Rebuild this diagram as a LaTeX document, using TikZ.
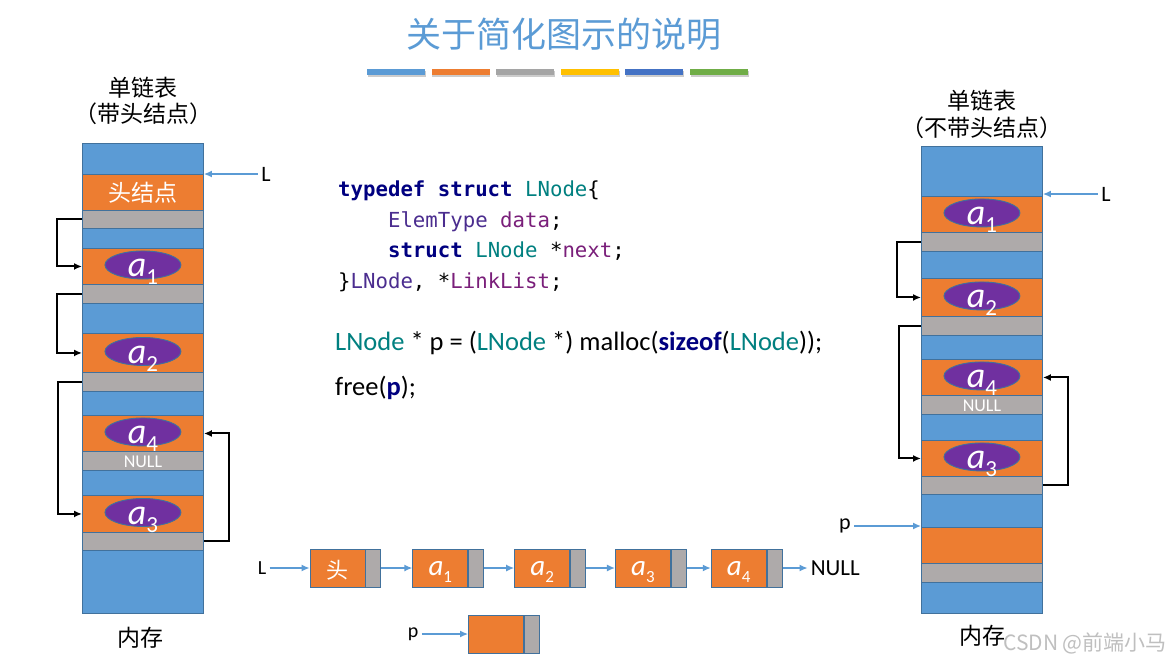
\documentclass[tikz,border=0pt]{standalone}
\usepackage{fontspec}
\setmainfont{Carlito}
\setmonofont{DejaVu Sans Mono}
\newfontfamily\cjk{Noto Sans CJK SC}
\usepackage{tikz}
\usetikzlibrary{arrows.meta,positioning,shapes.geometric,shadows}

\definecolor{memblue}{HTML}{5B9BD5}
\definecolor{memorange}{HTML}{ED7D31}
\definecolor{memgray}{HTML}{AEAAAA}
\definecolor{cellline}{HTML}{41719C}
\definecolor{elempurple}{HTML}{7030A0}
\definecolor{refblue}{HTML}{5B9BD5}
\definecolor{titleblue}{HTML}{5B9BD5}
\definecolor{barblue}{HTML}{5B9BD5}
\definecolor{barorange}{HTML}{ED7D31}
\definecolor{bargray}{HTML}{A5A5A5}
\definecolor{baryellow}{HTML}{FFC000}
\definecolor{bardeep}{HTML}{4472C4}
\definecolor{bargreen}{HTML}{70AD47}
\definecolor{kwnavy}{HTML}{000080}
\definecolor{typeteal}{HTML}{008080}
\definecolor{codeviolet}{HTML}{4B2D8F}
\definecolor{codemagenta}{HTML}{7A1F7A}

\newcommand{\colelem}[1]{{\fontsize{36}{36}\selectfont\itshape a}\raisebox{-8pt}{\fontsize{23}{23}\selectfont #1}}
\newcommand{\chainelem}[1]{{\fontsize{29}{29}\selectfont\itshape a}\raisebox{-7pt}{\fontsize{17}{17}\selectfont #1}}
\newcommand{\codeindent}{\phantom{0000}}

\tikzset{%
  memcell/.style={draw=cellline, line width=0.9pt, minimum width=121pt, inner sep=0pt, anchor=north west},
  elemdot/.style={ellipse, draw=cellline, line width=0.9pt, fill=elempurple, minimum width=76pt, minimum height=28pt, inner sep=0pt},
  elemtext/.style={text=white, inner sep=0pt, text height=24pt, text depth=0pt},
  celltext/.style={text=white, inner sep=0pt},
  chainval/.style={draw=cellline, line width=0.9pt, fill=memorange, minimum width=55pt, minimum height=38pt, inner sep=0pt, text=white, text height=14pt, text depth=0pt},
  chainnext/.style={draw=cellline, line width=0.9pt, fill=memgray, minimum width=15pt, minimum height=38pt, inner sep=0pt},
  link/.style={-{Latex[length=8pt,width=7pt]}, line width=2pt},
  ref/.style={-{Latex[length=8pt,width=7pt]}, line width=1.4pt, draw=refblue},
  ptrlabel/.style={font=\fontsize{22}{22}\selectfont},
  colorbar/.style={minimum width=58pt, minimum height=6pt, inner sep=0pt, drop shadow={shadow xshift=0.8pt, shadow yshift=-1.6pt, opacity=0.4}}%
}

\begin{document}
\begin{tikzpicture}[x=1pt, y=-1pt]

\fill[white] (0,0) rectangle (1174,665);
\useasboundingbox (0,0) rectangle (1174,665);

% Title
\node[font=\cjk\fontsize{35}{35}\selectfont, text=titleblue] (title) at (564,34) {关于简化图示的说明};
\foreach \clr [count=\i from 0] in {barblue,barorange,bargray,baryellow,bardeep,bargreen}
  \node[colorbar, fill=\clr] (bar\i) at (396+\i*64.6,72) {};

% Left memory (with head node)
\node[font=\cjk\fontsize{23}{26}\selectfont, align=center] (lcap) at (143,101) {单链表\\（带头结点）};
\foreach \ytop/\hgt/\clr/\id in {143/31/memblue/l0, 174/36/memorange/lhead, 210/18/memgray/lheadnext,
    228/20/memblue/l1, 248/36/memorange/la1, 284/19/memgray/la1next, 303/30/memblue/l2,
    333/39/memorange/la2, 372/19/memgray/la2next, 391/24/memblue/l3, 415/36/memorange/la4,
    451/19/memgray/la4next, 470/25/memblue/l4, 495/37/memorange/la3, 532/18/memgray/la3next,
    550/63/memblue/l5}
  \node[memcell, fill=\clr, minimum height=\hgt pt] (\id) at (82,\ytop) {};
\node[celltext, font=\cjk\fontsize{23}{23}\selectfont] (headtxt) at (lhead) {头结点};
\node[celltext, font=\fontsize{18}{18}\selectfont] (lnull) at ([yshift=-1pt]la4next.center) {NULL};
\node[font=\cjk\fontsize{23}{23}\selectfont] (lmem) at (140,638) {内存};

% Right memory (without head node)
\node[font=\cjk\fontsize{23}{27}\selectfont, align=center] (rcap) at (982,114) {单链表\\（不带头结点）};
\foreach \ytop/\hgt/\clr/\id in {146/50/memblue/r0, 196/36/memorange/ra1, 232/19/memgray/ra1next,
    251/27/memblue/r1, 278/38/memorange/ra2, 316/19/memgray/ra2next, 335/24/memblue/r2,
    359/36/memorange/ra4, 395/19/memgray/ra4next, 414/26/memblue/r3, 440/36/memorange/ra3,
    476/18/memgray/ra3next, 494/33/memblue/r4, 527/36/memorange/rnew, 563/19/memgray/rnewnext,
    582/31/memblue/r5}
  \node[memcell, fill=\clr, minimum height=\hgt pt] (\id) at (921,\ytop) {};
\node[celltext, font=\fontsize{18}{18}\selectfont] (rnull) at ([yshift=-1pt]ra4next.center) {NULL};
\node[font=\cjk\fontsize{23}{23}\selectfont] (rmem) at (982,636) {内存};

% Elements
\foreach \id/\n in {la1/1, la2/2, la4/4, la3/3, ra1/1, ra2/2, ra4/4, ra3/3} {
  \node[elemdot] (\id dot) at ([yshift=1.5pt]\id.center) {};
  \node[elemtext] (\id txt) at (\id dot) {\colelem{\n}};
}

% Pointers into memory
\node[ptrlabel] (lptr) at (266,174) {L};
\node[ptrlabel] (rptr) at (1106,194) {L};
\node[ptrlabel] (pptr) at (845,526) {p};
\draw[ref] (lptr) -- (lptr -| lhead.east);
\draw[ref] (rptr) -- (rptr -| ra1.east);
\draw[ref] (pptr) -- (pptr -| rnew.west);

% Next links
\draw[link] (lheadnext.west) -- ++(-25,0) |- (la1.west);
\draw[link] (la1next.west) -- ++(-25,0) |- (la2.west);
\draw[link] (la2next.west) -- ++(-24,0) |- (la3.west);
\draw[link] (la3next.east) -- ++(25,0) |- (la4.east);
\draw[link] (ra1next.west) -- ++(-24,0) |- (ra2.west);
\draw[link] (ra2next.west) -- ++(-22,0) |- (ra3.west);
\draw[link] (ra3next.east) -- ++(25,0) |- (ra4.east);

% Code
\node[font=\ttfamily\fontsize{20.7}{30.5}\selectfont, align=left, inner sep=0pt, anchor=north west] (decl) at (338,181) {%
\textbf{\textcolor{kwnavy}{typedef struct}} \textcolor{typeteal}{LNode}\{\\
\codeindent\textcolor{codeviolet}{ElemType} \textcolor{codemagenta}{data};\\
\codeindent\textbf{\textcolor{kwnavy}{struct}} \textcolor{typeteal}{LNode} *\textcolor{codemagenta}{next};\\
\}\textcolor{codeviolet}{LNode}, *\textcolor{codemagenta}{LinkList};};
\node[font=\fontsize{26.5}{26.5}\selectfont, inner sep=0pt, anchor=base west] (alloc) at (335,350)
  {\textcolor{typeteal}{LNode} * p = (\textcolor{typeteal}{LNode} *) malloc(\textbf{\textcolor{kwnavy}{sizeof}}(\textcolor{typeteal}{LNode}));};
\node[font=\fontsize{26.5}{26.5}\selectfont, inner sep=0pt, anchor=base west] (release) at (335,395)
  {free(\textbf{\textcolor{kwnavy}{p}});};

% Simplified chain
\node[chainval, text height=20pt, font=\cjk\fontsize{22}{22}\selectfont] (c0) at (337.5,568) {头};
\node[chainnext, right=0pt of c0] (c0next) {};
\node[chainval, right=31pt of c0next] (c1) {\chainelem{1}};
\node[chainnext, right=0pt of c1] (c1next) {};
\node[chainval, right=30pt of c1next] (c2) {\chainelem{2}};
\node[chainnext, right=0pt of c2] (c2next) {};
\node[chainval, right=29pt of c2next] (c3) {\chainelem{3}};
\node[chainnext, right=0pt of c3] (c3next) {};
\node[chainval, right=24pt of c3next] (c4) {\chainelem{4}};
\node[chainnext, right=0pt of c4] (c4next) {};
\node[ptrlabel, font=\fontsize{23}{23}\selectfont, inner sep=3pt, right=25pt of c4next] (cnull) {NULL};
\node[ptrlabel, font=\fontsize{20}{20}\selectfont] (chainl) at (262,568) {L};
\draw[ref] (chainl) -- (c0);
\foreach \a/\b in {c0next/c1, c1next/c2, c2next/c3, c3next/c4, c4next/cnull}
  \draw[ref] (\a) -- (\b);

% New node
\node[chainval] (pnew) at (496,634) {};
\node[chainnext, right=0pt of pnew] (pnewnext) {};
\node[ptrlabel, font=\fontsize{20}{20}\selectfont] (pl) at (413,634) {p};
\draw[ref] (pl) -- (pnew);

% Watermark
\node[font=\cjk\fontsize{21}{21}\selectfont, text=black!25] (mark) at (1085,643) {CSDN @前端小马};

\end{tikzpicture}
\end{document}
